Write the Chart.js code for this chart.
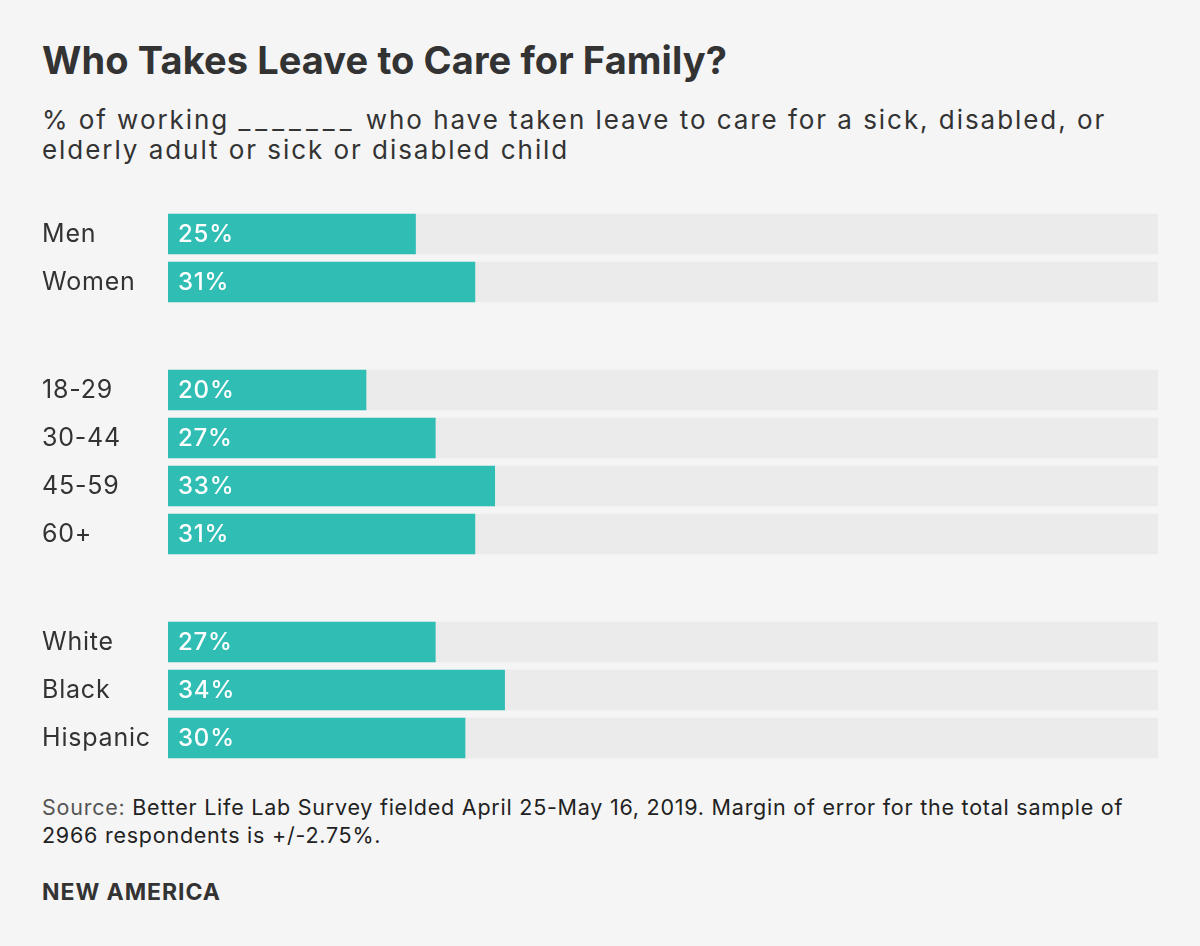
<!DOCTYPE html>
<html>
<head>
<meta charset="utf-8">
<script src="https://cdn.jsdelivr.net/npm/chart.js@4.4.1/dist/chart.umd.min.js"></script>
<style>
  html, body { margin: 0; padding: 0; background: #f5f5f5; }
  body { width: 1200px; height: 946px; position: relative; font-family: "Inter", sans-serif; color: #333; overflow: hidden; }
  .txt { position: absolute; left: 42px; white-space: nowrap; }
  #title { top: 37px; font-size: 38px; line-height: 46px; font-weight: 700; letter-spacing: 0.1px; }
  #subtitle { top: 105px; font-size: 26px; line-height: 30px; letter-spacing: 1.95px; }
  #subtitle .blank { letter-spacing: 5px; }
  #source { top: 793px; font-size: 21.5px; line-height: 28px; color: #222; letter-spacing: 0.76px; }
  #source span { color: #555; }
  #brand { top: 878px; font-size: 23px; line-height: 28px; font-weight: 700; letter-spacing: 0.95px; }
  .grp { position: absolute; left: 42px; width: 1116px; }
</style>
</head>
<body>
<div class="txt" id="title">Who Takes Leave to Care for Family?</div>
<div class="txt" id="subtitle">% of working <span class="blank">_______</span> who have taken leave to care for a sick, disabled, or<br>elderly adult or sick or disabled child</div>

<div class="grp" style="top:210px;height:96px"><canvas id="g0"></canvas></div>
<div class="grp" style="top:366px;height:192px"><canvas id="g1"></canvas></div>
<div class="grp" style="top:618px;height:144px"><canvas id="g2"></canvas></div>

<div class="txt" id="source"><span>Source:</span> Better Life Lab Survey fielded April 25-May 16, 2019. Margin of error for the total sample of<br>2966 respondents is +/-2.75%.</div>
<div class="txt" id="brand">NEW AMERICA</div>

<script>
// categorias y valores por grupo (%)
var sexLabels = ['Men', 'Women'];
var sexValues = [25, 31];
var ageLabels = ['18-29', '30-44', '45-59', '60+'];
var ageValues = [20, 27, 33, 31];
var raceLabels = ['White', 'Black', 'Hispanic'];
var raceValues = [27, 34, 30];
var scaleMax = 100;

// espaciado de letras para todo el texto del canvas
var spacing = {
  id: 'spacing',
  beforeDraw: function (chart) { chart.ctx.letterSpacing = '0.8px'; }
};

// etiqueta blanca dentro de cada barra
var valueLabels = {
  id: 'valueLabels',
  afterDatasetsDraw: function (chart) {
    var ctx = chart.ctx;
    var meta = chart.getDatasetMeta(0);
    ctx.save();
    ctx.fillStyle = '#ffffff';
    ctx.font = '500 24px Inter';
    ctx.letterSpacing = '0.8px';
    ctx.textBaseline = 'middle';
    ctx.textAlign = 'left';
    meta.data.forEach(function (bar, i) {
      ctx.fillText(chart.data.datasets[0].data[i] + '%', bar.base + 10, bar.y + 1);
    });
    ctx.restore();
  }
};

function makeChart(id, labels, values) {
  new Chart(document.getElementById(id), {
    type: 'bar',
    data: {
      labels: labels,
      datasets: [{
        data: values,
        backgroundColor: '#2fbdb4',
        grouped: false,
        order: 0,
        barThickness: 40
      }, {
        data: labels.map(function () { return scaleMax; }),
        backgroundColor: '#ebebeb',
        grouped: false,
        order: 1,
        barThickness: 40
      }]
    },
    options: {
      indexAxis: 'y',
      responsive: true,
      maintainAspectRatio: false,
      animation: false,
      layout: { padding: 0 },
      plugins: {
        legend: { display: false },
        tooltip: { enabled: false }
      },
      scales: {
        x: { min: 0, max: scaleMax, display: false },
        y: {
          grid: { display: false },
          border: { display: false },
          afterFit: function (axis) {
            axis.width = 126;
            axis.paddingTop = 0;
            axis.paddingBottom = 0;
          },
          ticks: {
            crossAlign: 'far',
            padding: 0,
            color: '#333',
            font: { family: 'Inter', size: 25 }
          }
        }
      }
    },
    plugins: [spacing, valueLabels]
  });
}

makeChart('g0', sexLabels, sexValues);
makeChart('g1', ageLabels, ageValues);
makeChart('g2', raceLabels, raceValues);
</script>
</body>
</html>
